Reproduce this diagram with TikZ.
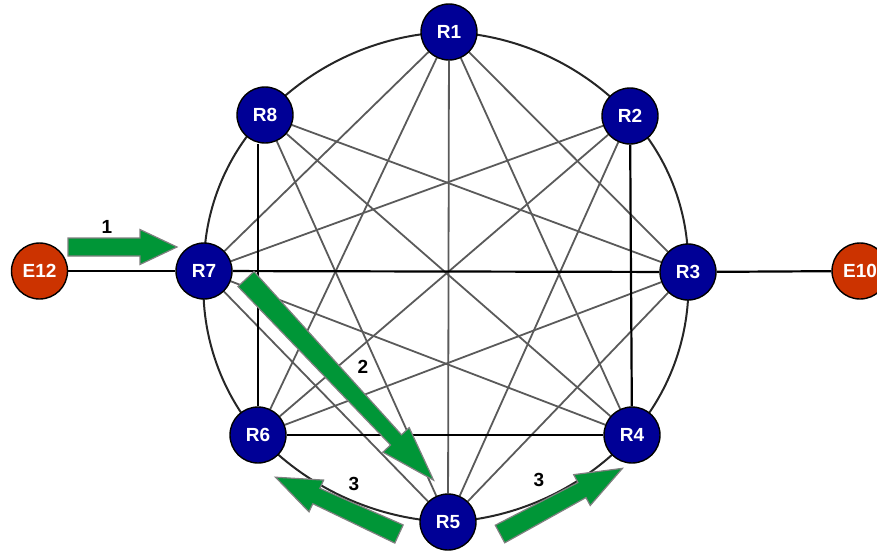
\documentclass[tikz,border=0pt]{standalone}
\usepackage{fontspec}
\setmainfont{Liberation Sans}
\usetikzlibrary{backgrounds}
\definecolor{routerblue}{RGB}{0,0,150}
\definecolor{edgered}{RGB}{204,51,0}
\definecolor{flowgreen}{RGB}{0,150,55}
\definecolor{meshgray}{RGB}{90,90,90}
\tikzset{
  router/.style={circle, draw=black, line width=1.4pt, fill=routerblue,
    minimum size=56pt, inner sep=0pt, text=white,
    font=\fontsize{19}{19}\selectfont\bfseries},
  edgerouter/.style={router, fill=edgered},
  ring/.style={draw=black!85, line width=2pt},
  trunk/.style={draw=black, line width=2.2pt},
  mesh/.style={draw=meshgray, line width=1.8pt},
  steplabel/.style={font=\fontsize{19}{19}\selectfont\bfseries, text=black, inner sep=0pt},
  arrowbody/.style={fill=flowgreen, draw=black!50, line width=1.2pt, line join=miter},
  % length / tail width / neck width / head width / head length
  pics/fatarrow/.style n args={5}{code={
    \filldraw[arrowbody] (0,{-#2/2}) -- ({#1-#5},{-#3/2}) -- ({#1-#5},{-#4/2})
      -- (#1,0) -- ({#1-#5},{#4/2}) -- ({#1-#5},{#3/2}) -- (0,{#2/2}) -- cycle;
  }}
}
\begin{document}
\begin{tikzpicture}[x=1pt,y=-1pt]
\useasboundingbox (0,0) rectangle (877,552);

% routers of the full mesh
\node[router] (R1) at (449,32) {R1};
\node[router] (R2) at (630,116) {R2};
\node[router] (R3) at (688,272) {R3};
\node[router] (R4) at (632,435) {R4};
\node[router] (R5) at (448,522) {R5};
\node[router] (R6) at (258,435) {R6};
\node[router] (R7) at (204,271) {R7};
\node[router] (R8) at (265,115) {R8};
% edge routers
\node[edgerouter] (E12) at (39.5,271) {E12};
\node[edgerouter] (E10) at (860,271) {E10};

\begin{scope}[on background layer]
% inner mesh links
\foreach \a/\b in {R1/R3,R1/R4,R1/R5,R1/R6,R1/R7,R8/R3,R8/R4,R8/R5,
                   R2/R7,R2/R6,R2/R5,R7/R4,R7/R5,R6/R3,R5/R3}
  \draw[mesh] (\a) -- (\b);
% outer ring, centre to centre so the arcs follow one circle
\foreach \a/\b in {R1/R2,R2/R3,R3/R4,R4/R5,R5/R6,R6/R7,R7/R8,R8/R1}
  \draw[ring] (\a.center) to[bend left=22.5, looseness=0.885] (\b.center);
% trunk links
\draw[trunk] (R6.north) -- (R6.north |- R8.south);
\draw[trunk] (R2) -- (R4);
\draw[trunk] (R6) -- (R4);
\draw[trunk] (R7) -- (R3);
\draw[trunk] (E12) -- (R7);
\draw[trunk] (R3) -- (E10);
\end{scope}

% traffic flow arrows
\pic[rotate=0] at (68,247) {fatarrow={109}{18}{18}{35}{37}};
\pic[rotate=-47] at (246,279) {fatarrow={275}{22}{15}{36}{55}};
\pic[rotate=155.3] at (399,534) {fatarrow={136}{20}{17}{35}{45}};
\pic[rotate=28.2] at (500,534) {fatarrow={139}{20}{17}{35}{46}};

% step numbers
\node[steplabel] (s1) at (107,227) {1};
\node[steplabel] (s2) at (363,367) {2};
\node[steplabel] (s3a) at (354,484) {3};
\node[steplabel] (s3b) at (539,480) {3};
\end{tikzpicture}
\end{document}
